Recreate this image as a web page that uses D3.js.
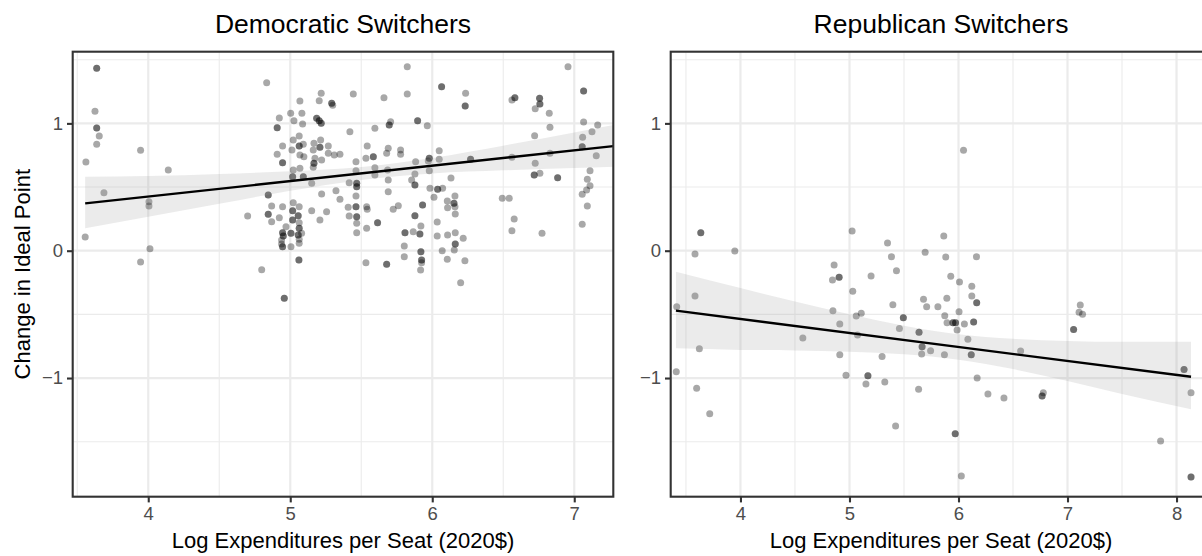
<!DOCTYPE html>
<html>
<head>
<meta charset="utf-8">
<script src="https://cdn.jsdelivr.net/npm/d3@7"></script>
<style>
  html, body { margin: 0; padding: 0; background: #fff; }
  svg { display: block; font-family: "Liberation Sans", Arial, Helvetica, sans-serif; }
</style>
</head>
<body>
<svg id="chart" width="1202" height="556"></svg>
<script>
// ---- Democratic switchers: log expenditures per seat vs change in ideal point
const demX = [3.637,3.625,3.637,3.655,3.637,3.561,3.688,3.556,3.946,4.005,4.005,4.012,3.946,4.141,4.834,4.70,4.799,4.958,4.908,4.923,4.946,4.908,4.946,4.845,4.869,4.845,4.923,4.869,4.946,4.946,4.951,4.939,4.939,4.946,4.97,5.005,5.005,5.017,5.017,5.021,5.063,5.056,5.063,5.063,5.056,5.063,5.063,5.08,5.061,5.021,5.017,5.092,5.021,5.012,5.063,5.092,5.063,5.068,5.003,5.026,5.082,5.087,5.068,5.096,5.068,5.151,5.167,5.162,5.174,5.167,5.162,5.209,5.214,5.186,5.204,5.218,5.204,5.218,5.292,5.299,5.268,5.268,5.221,5.31,5.35,5.221,5.322,5.35,5.256,5.151,5.209,5.42,5.444,5.415,5.463,5.463,5.468,5.468,5.463,5.463,5.408,5.415,5.468,5.468,5.468,5.538,5.542,5.538,5.615,5.533,5.679,5.542,5.533,5.585,5.596,5.596,5.596,5.66,5.697,5.707,5.69,5.679,5.686,5.69,5.69,5.725,5.761,
  5.824,5.824,6.066,6.235,6.232,5.897,5.965,5.777,5.777,6.049,5.979,6.049,5.883,5.972,5.979,5.878,5.855,5.878,6.132,6.27,5.984,6.038,6.073,6.012,6.16,6.106,6.153,6.16,6.108,5.932,5.878,6.162,5.92,5.808,5.866,5.913,6.035,6.035,6.108,6.162,6.218,6.162,6.155,6.07,5.92,5.803,5.803,5.925,5.925,5.918,6.106,6.23,6.2,6.493,6.542,6.577,6.561,6.561,6.561,6.582,6.756,6.758,6.725,6.824,6.829,6.721,6.829,6.725,6.718,6.758,6.883,6.773,6.956,7.066,7.066,7.165,7.125,7.059,7.056,7.155,7.111,7.092,7.111,7.087,7.056,7.092,7.056];
const demY = [1.433,1.095,0.964,0.901,0.836,0.697,0.456,0.108,0.789,0.385,0.351,0.016,-0.089,0.634,1.32,0.273,-0.149,-0.374,0.966,1.042,0.822,0.757,0.691,0.437,0.351,0.286,0.259,0.228,0.346,0.141,0.115,0.084,0.053,0.031,0.189,0.137,0.031,0.241,0.314,0.377,0.346,0.275,0.22,0.176,0.123,0.09,0.058,0.137,-0.073,0.634,0.581,0.581,0.87,0.791,0.822,0.836,0.901,1.176,1.079,1.021,1.079,0.995,0.752,0.738,0.647,0.529,0.686,0.655,0.726,0.844,0.791,0.812,0.87,1.04,1.021,1.001,1.178,1.236,1.158,1.142,0.822,0.765,0.712,0.752,0.757,0.445,0.471,0.404,0.306,0.314,0.241,0.935,1.231,0.534,0.699,0.628,0.529,0.503,0.43,0.346,0.341,0.273,0.267,0.215,0.141,0.346,0.325,0.176,0.22,-0.094,-0.107,0.822,0.726,0.738,0.652,0.595,0.961,1.202,0.987,1.013,0.804,0.765,0.634,0.555,0.463,0.325,0.353,
  1.445,1.231,1.288,1.236,1.137,1.021,0.982,0.791,0.757,0.786,0.726,0.718,0.699,0.705,0.628,0.603,0.555,0.516,0.571,0.718,0.49,0.482,0.49,0.419,0.43,0.39,0.372,0.346,0.338,0.359,0.275,0.288,0.194,0.141,0.149,0.131,0.225,0.115,0.123,0.141,0.097,0.053,0.005,0.0,-0.008,0.037,-0.047,-0.073,-0.094,-0.152,-0.068,-0.079,-0.251,0.412,0.412,0.249,0.157,0.734,1.184,1.202,1.197,1.152,1.115,1.079,0.969,0.903,0.765,0.686,0.595,0.608,0.573,0.137,1.445,1.255,1.011,0.987,0.935,0.891,0.817,0.746,0.628,0.561,0.511,0.477,0.443,0.351,0.207];
// number of members plotted at the same spot
const demN = [2,1,2,1,1,1,1,1,1,1,1,1,1,1,1,1,1,2,2,1,1,1,2,2,1,2,1,1,1,2,2,1,1,2,1,2,1,2,2,1,1,2,1,2,2,1,1,1,2,1,2,2,1,1,2,1,1,1,1,1,1,1,1,1,1,1,2,1,1,1,1,2,1,2,2,2,1,1,2,1,1,1,1,1,1,1,1,1,1,1,1,1,1,1,1,1,2,2,1,2,1,1,2,1,1,1,1,1,2,1,2,1,1,2,1,1,1,1,2,1,1,1,1,1,1,1,1,
  1,1,2,1,2,2,1,1,1,1,2,1,1,1,1,1,1,2,1,2,1,2,1,1,1,1,2,1,1,2,2,1,1,2,1,2,1,1,1,1,1,2,1,1,2,1,1,2,1,1,1,1,1,1,1,1,1,1,1,2,2,2,1,1,1,1,1,1,2,1,2,1,1,2,1,1,1,1,2,1,1,1,1,1,1,1,1];

// ---- Republican switchers
const repX = [3.636,3.583,3.948,3.583,5.024,4.859,4.844,4.905,5.03,5.198,5.349,5.385,5.431,6.046,5.694,5.865,5.883,6.165,5.929,6.009,6.122,6.122,5.679,5.893,6.167,6.139,6.054,5.973,5.949,5.895,5.874,6.005,5.811,5.708,5.987,6.086,6.117,6.171,6.27,6.417,6.57,5.744,5.666,5.662,5.638,5.871,5.458,5.494,5.398,5.299,5.324,5.634,5.423,5.169,5.151,4.968,4.911,5.074,5.108,5.062,4.911,4.848,4.572,5.97,6.026,6.767,6.778,7.056,7.117,7.106,7.138,7.854,8.069,8.133,8.133,3.415,3.411,3.623,3.598,3.718];
const repY = [0.141,-0.026,-0.002,-0.356,0.155,-0.112,-0.23,-0.209,-0.319,-0.199,0.06,-0.047,-0.157,0.789,-0.013,0.115,-0.049,-0.047,-0.201,-0.246,-0.28,-0.356,-0.382,-0.374,-0.408,-0.56,-0.576,-0.566,-0.566,-0.566,-0.511,-0.479,-0.44,-0.44,-0.623,-0.696,-0.817,-1.0,-1.126,-1.157,-0.788,-0.786,-0.754,-0.811,-0.641,-0.817,-0.61,-0.526,-0.424,-0.83,-1.031,-1.089,-1.377,-0.982,-1.047,-0.979,-0.817,-0.662,-0.492,-0.513,-0.576,-0.471,-0.686,-1.438,-1.77,-1.141,-1.115,-0.618,-0.427,-0.484,-0.5,-1.495,-0.932,-1.115,-1.778,-0.44,-0.951,-0.77,-1.081,-1.28];
const repN = [2,1,1,1,1,1,1,2,1,1,1,1,1,1,1,1,1,1,1,1,1,1,1,1,2,2,1,2,2,1,1,1,1,1,1,1,2,1,1,1,1,1,2,1,2,1,1,2,1,1,1,1,1,2,1,1,1,1,1,1,1,1,1,2,1,2,1,2,1,1,1,1,2,1,2,1,1,1,1,1];

// ---- linear fits with 95% confidence bands
const demFitX = [3.556, 7.275];
const demFitY = [0.372, 0.822];
const demBandX  = [3.556, 4, 4.5, 5, 5.5, 6, 6.5, 7, 7.275];
const demBandLo = [0.176, 0.266, 0.369, 0.470, 0.556, 0.607, 0.631, 0.650, 0.660];
const demBandHi = [0.581, 0.586, 0.603, 0.624, 0.658, 0.729, 0.825, 0.928, 0.987];

const repFitX = [3.408, 8.133];
const repFitY = [-0.471, -0.990];
const repBandX  = [3.408, 4, 4.5, 5, 5.5, 6, 6.5, 7, 7.5, 8.133];
const repBandLo = [-0.767, -0.779, -0.783, -0.793, -0.813, -0.856, -0.930, -1.023, -1.126, -1.246];
const repBandHi = [-0.165, -0.293, -0.399, -0.500, -0.589, -0.656, -0.692, -0.709, -0.716, -0.715];

// ---- axes
const yMajor = [-1, 0, 1];
const yMinor = [-1.5, -0.5, 0.5, 1.5];
const yTickLabels = ["\u22121", "0", "1"];
const demXMajor = [4, 5, 6, 7];
const demXMinor = [3.5, 4.5, 5.5, 6.5];
const repXMajor = [4, 5, 6, 7, 8];
const repXMinor = [3.5, 4.5, 5.5, 6.5, 7.5];

const titles = ["Democratic Switchers", "Republican Switchers"];
const xTitle = "Log Expenditures per Seat (2020$)";
const yTitle = "Change in Ideal Point";

const svg = d3.select("#chart");
svg.append("rect").attr("width", 1202).attr("height", 556).attr("fill", "#fff");

const panelTop = 51.7, panelBottom = 496.7;
const y = d3.scaleLinear().domain([-1.932, 1.563]).range([panelBottom, panelTop]);

const panels = [
  { id: "dem", left: 72.7, right: 613.3, domain: [3.468, 7.275],
    xs: demX, ys: demY, ns: demN, fitX: demFitX, fitY: demFitY,
    bandX: demBandX, bandLo: demBandLo, bandHi: demBandHi,
    major: demXMajor, minor: demXMinor, title: titles[0], yTitle: true },
  { id: "rep", left: 670.7, right: 1211.3, domain: [3.36, 8.319],
    xs: repX, ys: repY, ns: repN, fitX: repFitX, fitY: repFitY,
    bandX: repBandX, bandLo: repBandLo, bandHi: repBandHi,
    major: repXMajor, minor: repXMinor, title: titles[1], yTitle: false }
];

const GRID = "#EBEBEB", INK = "#333333", TICKTXT = "#4D4D4D";
const FONT = "'Liberation Sans', Arial, Helvetica, sans-serif";

panels.forEach(p => {
  const x = d3.scaleLinear().domain(p.domain).range([p.left, p.right]);
  const w = p.right - p.left, h = panelBottom - panelTop;
  const cx = (p.left + p.right) / 2;

  svg.append("clipPath").attr("id", "clip-" + p.id)
    .append("rect").attr("x", p.left).attr("y", panelTop).attr("width", w).attr("height", h);

  const g = svg.append("g").attr("clip-path", `url(#clip-${p.id})`);

  // grid: minor then major
  g.append("g").selectAll("line").data(p.minor).join("line")
    .attr("x1", d => x(d)).attr("x2", d => x(d)).attr("y1", panelTop).attr("y2", panelBottom)
    .attr("stroke", GRID).attr("stroke-width", 1.1);
  g.append("g").selectAll("line").data(yMinor).join("line")
    .attr("x1", p.left).attr("x2", p.right).attr("y1", d => y(d)).attr("y2", d => y(d))
    .attr("stroke", GRID).attr("stroke-width", 1.1);
  g.append("g").selectAll("line").data(p.major).join("line")
    .attr("x1", d => x(d)).attr("x2", d => x(d)).attr("y1", panelTop).attr("y2", panelBottom)
    .attr("stroke", GRID).attr("stroke-width", 2.2);
  g.append("g").selectAll("line").data(yMajor).join("line")
    .attr("x1", p.left).attr("x2", p.right).attr("y1", d => y(d)).attr("y2", d => y(d))
    .attr("stroke", GRID).attr("stroke-width", 2.2);

  // points (overlapping members drawn once per member)
  const pts = [];
  p.xs.forEach((v, i) => { for (let k = 0; k < (p.ns[i] || 1); k++) pts.push([v, p.ys[i]]); });
  g.append("g").selectAll("circle").data(pts).join("circle")
    .attr("cx", d => x(d[0])).attr("cy", d => y(d[1])).attr("r", 3.5)
    .attr("fill", "#000").attr("fill-opacity", 0.34);

  // confidence band
  const band = p.bandX.map((v, i) => [v, p.bandLo[i], p.bandHi[i]]);
  g.append("path").datum(band)
    .attr("d", d3.area().x(d => x(d[0])).y0(d => y(d[1])).y1(d => y(d[2])).curve(d3.curveMonotoneX))
    .attr("fill", "#999999").attr("fill-opacity", 0.2);

  // fitted line
  g.append("path").datum(p.fitX.map((v, i) => [v, p.fitY[i]]))
    .attr("d", d3.line().x(d => x(d[0])).y(d => y(d[1])))
    .attr("fill", "none").attr("stroke", "#000").attr("stroke-width", 2.3);

  // panel border
  svg.append("rect").attr("x", p.left).attr("y", panelTop).attr("width", w).attr("height", h)
    .attr("fill", "none").attr("stroke", INK).attr("stroke-width", 2.1);

  // x axis
  const xAxis = d3.axisBottom(x).tickValues(p.major).tickSize(5.7).tickPadding(4).tickFormat(d3.format("d"));
  const xa = svg.append("g").attr("transform", `translate(0,${panelBottom})`).call(xAxis);
  xa.select(".domain").remove();
  xa.selectAll("line").attr("stroke", INK).attr("stroke-width", 2.1);
  xa.selectAll("text").attr("fill", TICKTXT).style("font-size", "18.5px").style("font-family", FONT);

  // y axis
  const yAxis = d3.axisLeft(y).tickValues(yMajor).tickSize(5.7).tickPadding(4)
    .tickFormat((d, i) => yTickLabels[i]);
  const ya = svg.append("g").attr("transform", `translate(${p.left},0)`).call(yAxis);
  ya.select(".domain").remove();
  ya.selectAll("line").attr("stroke", INK).attr("stroke-width", 2.1);
  ya.selectAll("text").attr("fill", TICKTXT).style("font-size", "18.5px").style("font-family", FONT);

  // titles
  svg.append("text").attr("x", cx).attr("y", 33).attr("text-anchor", "middle")
    .style("font-size", "26.5px").attr("fill", "#000").text(p.title);
  svg.append("text").attr("x", cx).attr("y", 548).attr("text-anchor", "middle")
    .style("font-size", "22px").attr("fill", "#000").text(xTitle);
  if (p.yTitle) {
    svg.append("text").attr("transform", `translate(29.6,${(panelTop + panelBottom) / 2}) rotate(-90)`)
      .attr("text-anchor", "middle").style("font-size", "22px").attr("fill", "#000").text(yTitle);
  }
});
</script>
</body>
</html>
